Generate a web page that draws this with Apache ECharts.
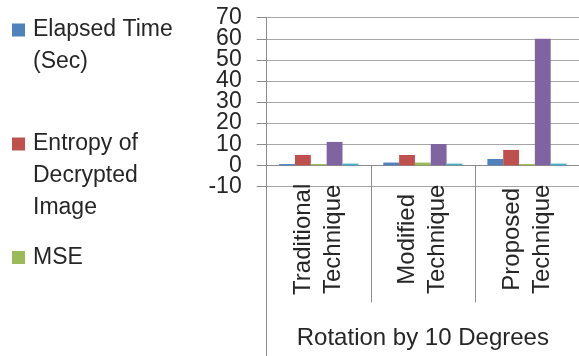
<!DOCTYPE html>
<html>
<head>
<meta charset="utf-8">
<script src="https://cdn.jsdelivr.net/npm/echarts@6/dist/echarts.min.js"></script>
<style>html,body{margin:0;padding:0;background:#fff;}#c{width:579px;height:356px;}</style>
</head>
<body>
<div id="c"></div>
<script>
const techniques = ['Traditional', 'Modified', 'Proposed'];
const techniqueSuffix = ['Technique', 'Technique', 'Technique'];
const elapsedTime = [0.6, 1.3, 3.0];
const entropy = [4.9, 4.9, 7.3];
const mse = [0.6, 1.3, 0.6];
const series4 = [11.1, 10.1, 60.0];
const series5 = [0.8, 0.8, 0.8];
const yTicks = { min: -10, max: 70, interval: 10 };
const yLabelsA = [-10, 10, 30, 50, 70];
const yLabelsB = [0, 20, 40, 60];
const axisTitle = 'Rotation by 10 Degrees';
const names = ['Elapsed Time\n(Sec)', 'Entropy of\nDecrypted\nImage', 'MSE', 'PSNR', 'Correlation'];
const colors = ['#4F81BD', '#C0504D', '#9BBB59', '#8064A2', '#4BACC6'];

const FONT = '"Liberation Sans", Arial, sans-serif';
const FS = 23;
const TXT = '#262626';
const LH = 32;
const AXC = '#8c8c8c';

function legendFor(i, top) {
  const n = names[i].split('\n').length;
  return {
    show: true, orient: 'vertical', left: 12, top: top, padding: 0,
    data: [names[i]], itemWidth: 13, itemHeight: 13, icon: 'rect',
    formatter: function (nm) { return '\n'.repeat(n - 1) + nm; },
    textStyle: { fontFamily: FONT, fontSize: FS, color: TXT, lineHeight: LH, padding: [0, 0, 0, 3] }
  };
}

function yAxisFor(labels, main) {
  return {
    type: 'value', position: 'left', offset: 0,
    min: yTicks.min, max: yTicks.max, interval: yTicks.interval,
    axisLine: { show: main, onZero: false, lineStyle: { color: AXC } },
    axisTick: { show: main, length: 10, lineStyle: { color: AXC } },
    axisLabel: { show: true, customValues: labels, margin: 25, fontFamily: FONT, fontSize: FS, color: TXT,
      showMinLabel: true, showMaxLabel: true },
    splitLine: { show: main, lineStyle: { color: '#a6a6a6', width: 1 } }
  };
}

// category labels drawn as two rotated lines centred below each category
function categoryLabelItem(params, api) {
  const idx = api.value(0);
  const p = api.coord([idx, 0]);
  const mk = function (txt, dx) {
    return {
      type: 'text', x: p[0] + dx, y: p[1] + 74, rotation: Math.PI / 2, silent: true,
      style: { text: txt, fill: TXT, fontSize: 24, fontFamily: FONT, align: 'center', verticalAlign: 'middle' }
    };
  };
  return { type: 'group', children: [mk(techniques[idx], -15), mk(techniqueSuffix[idx], 15)] };
}

const chart = echarts.init(document.getElementById('c'), null, { renderer: 'canvas' });
const allData = [elapsedTime, entropy, mse, series4, series5];
const barSeries = allData.map((d, i) => ({
  type: 'bar', name: names[i], data: d, xAxisIndex: 0, yAxisIndex: 0,
  barGap: '0%', barCategoryGap: '24%',
  itemStyle: { color: colors[i] }
}));
chart.setOption({
  animation: false,
  color: colors,
  legend: [legendFor(0, -18), legendFor(1, 64), legendFor(2, 241.5)],
  grid: { left: 266.7, top: 17.7, width: 316, height: 168.7, containLabel: false },
  xAxis: [{
    type: 'category', data: techniques, position: 'bottom',
    axisLine: { show: true, onZero: true, lineStyle: { color: AXC, width: 1 } },
    axisTick: { show: true, interval: 0, length: 137, lineStyle: { color: AXC } },
    axisLabel: { show: false },
    splitLine: { show: false }
  }, {
    type: 'category', data: techniques, position: 'bottom',
    axisLine: { show: false, onZero: false },
    axisTick: { show: true, interval: 3, length: 170, lineStyle: { color: AXC } },
    axisLabel: { show: false },
    name: axisTitle, nameLocation: 'middle', nameGap: 140,
    nameTextStyle: { fontFamily: FONT, fontSize: 24, color: TXT }
  }],
  yAxis: [yAxisFor(yLabelsA, true), yAxisFor(yLabelsB, false)],
  series: barSeries.concat([{
    type: 'custom', name: 'categoryLabels', xAxisIndex: 0, yAxisIndex: 0, clip: false, silent: true,
    data: techniques.map(function (t, i) { return [i, 0]; }),
    encode: { x: 0, y: 1 },
    renderItem: categoryLabelItem
  }])
});
</script>
</body>
</html>
